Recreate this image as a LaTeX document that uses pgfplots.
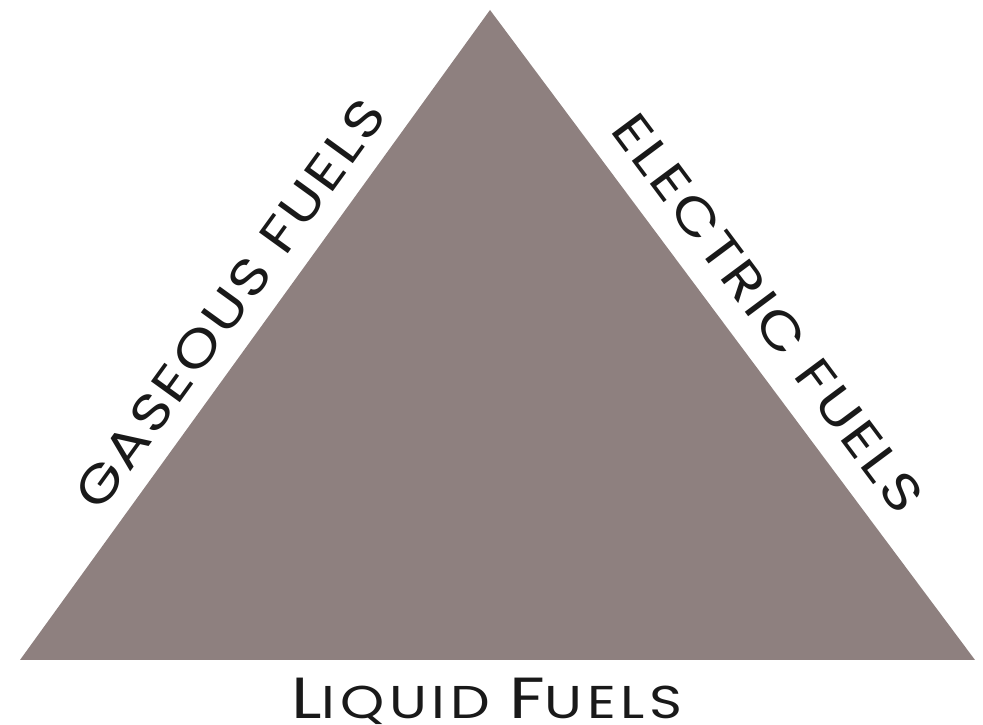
\documentclass[border=0pt]{standalone}
\usepackage{pgfplots}
\pgfplotsset{compat=1.18}
\usepackage{fontspec}
\setmainfont{Poppins}
\newfontfamily\wide{Poppins}[FakeStretch=1.2, LetterSpace=5]
\newfontfamily\widebottom{Poppins}[FakeStretch=1.22, LetterSpace=10]
\definecolor{tri}{RGB}{142,128,127}
\begin{document}
\begin{tikzpicture}
\begin{axis}[
  scale only axis, width=983pt, height=725pt,
  xmin=0, xmax=983, ymin=0, ymax=725,
  hide axis, clip=false]
\addplot[fill=tri, draw=none] coordinates {(20,65) (490,715) (975,65)} -- cycle;
\node[rotate=54.1, font=\wide\fontsize{51}{54}\selectfont, text=black!90] at (axis cs:230,421) {GASEOUS FUELS};
\node[rotate=-53.3, font=\wide\fontsize{51}{54}\selectfont, text=black!90] at (axis cs:768,412) {ELECTRIC FUELS};
\node[text=black!90, anchor=base] at (axis cs:487,6) {\widebottom\fontsize{58}{60}\selectfont L\fontsize{46}{50}\selectfont IQUID \fontsize{58}{60}\selectfont F\fontsize{46}{50}\selectfont UELS};
\end{axis}
\pgfresetboundingbox
\path (current axis.south west) rectangle (current axis.north east);
\end{tikzpicture}
\end{document}
